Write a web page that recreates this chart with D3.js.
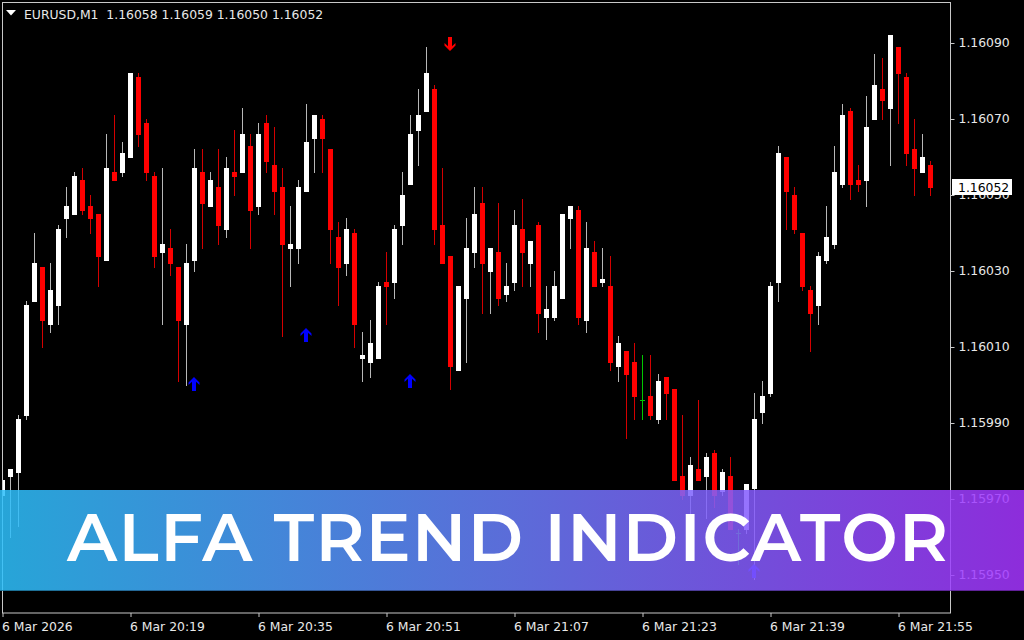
<!DOCTYPE html>
<html>
<head>
<meta charset="utf-8">
<script src="https://cdn.jsdelivr.net/npm/d3@7"></script>
<style>
  html, body { margin: 0; padding: 0; background: #000; }
  svg { display: block; }
  .axis text { font-family: "DejaVu Sans", Verdana, sans-serif; font-size: 12.4px; fill: #e8e8e8; }
  .axis line { stroke: #c8c8c8; }
</style>
</head>
<body>
<div id="chart"></div>
<script>
// chart values
var symbol = "EURUSD,M1";
var lastBar = [1.16058, 1.16059, 1.16050, 1.16052];
var timeLabels = ["6 Mar 2026", "6 Mar 20:19", "6 Mar 20:35", "6 Mar 20:51", "6 Mar 21:07", "6 Mar 21:23", "6 Mar 21:39", "6 Mar 21:55"];
var timeTickIdx = [0, 16, 32, 48, 64, 80, 96, 112];
var priceTicks = [1.15950, 1.15970, 1.15990, 1.16010, 1.16030, 1.16050, 1.16070, 1.16090];

var opens = [
  1.15971,1.15976,1.15977,1.15992,1.16022,1.16031,1.16016,1.16021,1.16044,1.16045,
  1.16054,1.16047,1.16045,1.16033,1.16056,1.16056,1.16060,1.16081,1.16069,1.16055,
  1.16035,1.16036,1.16031,1.16016,1.16033,1.16056,1.16047,1.16052,1.16041,1.16056,
  1.16056,1.16063,1.16047,1.16069,1.16058,1.16052,1.16036,1.16036,1.16051,1.16065,
  1.16070,1.16062,1.16039,1.16032,1.16040,1.16007,1.16006,1.16007,1.16027,1.16027,
  1.16042,1.16053,1.16067,1.16072,1.16078,1.16042,1.16034,1.16004,1.16023,1.16035,
  1.16048,1.16030,1.16035,1.16024,1.16027,1.16041,1.16032,1.16042,1.16018,1.16018,
  1.16023,1.16044,1.16046,1.16017,1.16035,1.16027,1.16026,1.16005,1.16009,1.16006,
  1.15996,1.15997,1.15991,1.16002,1.15999,1.15976,1.15971,1.15978,1.15976,1.15982,
  1.15972,1.15976,1.15961,1.15962,1.15973,1.15993,1.15998,1.16027,1.16060,1.16050,
  1.16040,1.16025,1.16021,1.16033,1.16037,1.16053,1.16072,1.16054,1.16054,1.16070,
  1.16078,1.16073,1.16089,1.16081,1.16062,1.16056,1.16058
];
var highs = [
  1.15979,1.15978,1.15992,1.16022,1.16040,1.16031,1.16032,1.16042,1.16052,1.16056,
  1.16057,1.16050,1.16045,1.16066,1.16071,1.16064,1.16082,1.16082,1.16070,1.16056,
  1.16057,1.16041,1.16031,1.16037,1.16062,1.16062,1.16056,1.16062,1.16060,1.16067,
  1.16073,1.16066,1.16069,1.16071,1.16068,1.16057,1.16047,1.16054,1.16074,1.16071,
  1.16071,1.16062,1.16043,1.16044,1.16041,1.16014,1.16017,1.16027,1.16035,1.16042,
  1.16056,1.16071,1.16078,1.16089,1.16079,1.16057,1.16034,1.16026,1.16044,1.16052,
  1.16052,1.16036,1.16048,1.16032,1.16046,1.16049,1.16038,1.16043,1.16026,1.16030,
  1.16045,1.16047,1.16047,1.16043,1.16038,1.16036,1.16034,1.16013,1.16009,1.16011,
  1.16008,1.16008,1.16003,1.16002,1.15999,1.15992,1.15981,1.15996,1.15982,1.15983,
  1.15978,1.15981,1.15962,1.15974,1.15998,1.16001,1.16027,1.16063,1.16060,1.16052,
  1.16040,1.16026,1.16035,1.16047,1.16063,1.16074,1.16073,1.16058,1.16076,1.16087,
  1.16086,1.16092,1.16089,1.16082,1.16070,1.16066,1.16059
];
var lows = [
  1.15965,1.15960,1.15963,1.15991,1.16022,1.16010,1.16014,1.16016,1.16039,1.16045,
  1.16045,1.16040,1.16026,1.16033,1.16054,1.16055,1.16060,1.16063,1.16054,1.16031,
  1.16016,1.16029,1.16001,1.16000,1.16030,1.16036,1.16047,1.16037,1.16039,1.16050,
  1.16056,1.16036,1.16045,1.16056,1.16045,1.16013,1.16026,1.16032,1.16051,1.16056,
  1.16056,1.16032,1.16021,1.16029,1.16010,1.16001,1.16002,1.16007,1.16016,1.16023,
  1.16037,1.16053,1.16058,1.16072,1.16037,1.16032,1.15999,1.16004,1.16006,1.16031,
  1.16019,1.16019,1.16021,1.16022,1.16025,1.16026,1.16026,1.16014,1.16012,1.16017,
  1.16023,1.16036,1.16016,1.16014,1.16026,1.16026,1.16004,1.16001,1.15986,1.15991,
  1.15991,1.15991,1.15990,1.15991,1.15975,1.15970,1.15966,1.15975,1.15965,1.15968,
  1.15971,1.15962,1.15953,1.15961,1.15949,1.15990,1.15997,1.16022,1.16041,1.16040,
  1.16025,1.16009,1.16016,1.16032,1.16036,1.16052,1.16049,1.16051,1.16047,1.16070,
  1.16070,1.16058,1.16069,1.16058,1.16050,1.16056,1.16050
];
var closes = [
  1.15975,1.15978,1.15991,1.16021,1.16032,1.16017,1.16025,1.16041,1.16047,1.16055,
  1.16046,1.16044,1.16034,1.16057,1.16054,1.16061,1.16082,1.16066,1.16056,1.16034,
  1.16037,1.16032,1.16017,1.16032,1.16057,1.16048,1.16054,1.16042,1.16057,1.16055,
  1.16066,1.16046,1.16066,1.16059,1.16051,1.16037,1.16037,1.16052,1.16064,1.16071,
  1.16065,1.16041,1.16031,1.16041,1.16016,1.16008,1.16011,1.16026,1.16026,1.16041,
  1.16050,1.16066,1.16071,1.16082,1.16041,1.16032,1.16005,1.16026,1.16036,1.16045,
  1.16032,1.16036,1.16023,1.16026,1.16042,1.16035,1.16038,1.16019,1.16020,1.16026,
  1.16045,1.16047,1.16018,1.16036,1.16026,1.16028,1.16006,1.16011,1.16003,1.15997,
  1.15996,1.15992,1.16001,1.15998,1.15975,1.15971,1.15979,1.15975,1.15981,1.15971,
  1.15977,1.15962,1.15961,1.15974,1.15991,1.15997,1.16026,1.16061,1.16051,1.16041,
  1.16026,1.16019,1.16034,1.16039,1.16056,1.16071,1.16053,1.16053,1.16068,1.16079,
  1.16075,1.16092,1.16082,1.16061,1.16057,1.16060,1.16052
];

// indicator arrows (bar index, price of the arrow tip, direction)
var arrowIdx = [24, 38, 51, 56, 94];
var arrowPrice = [1.16002, 1.16015, 1.16003, 1.16088, 1.15953];
var arrowDir = ["up", "up", "up", "down", "up"];

var bannerTitle = "ALFA TREND INDICATOR";

var svgWidth = 1024;
var svgHeight = 640;

var plot = { left: 2.5, top: 2.5, right: 950.5, bottom: 613 };

var svg = d3.select("#chart")
  .append("svg")
  .attr("width", svgWidth)
  .attr("height", svgHeight)
  .style("background", "#000");

var bars = opens.map(function(o, i) {
  return { i: i, o: o, h: highs[i], l: lows[i], c: closes[i] };
});

// scales
var x = d3.scaleLinear()
  .domain([0, bars.length - 1])
  .range([2.5, 930.5]);

var y = d3.scaleLinear()
  .domain([1.15950, 1.16090])
  .range([575, 43]);

var defs = svg.append("defs");
defs.append("clipPath")
  .attr("id", "plotClip")
  .append("rect")
  .attr("x", plot.left + 0.5)
  .attr("y", plot.top + 0.5)
  .attr("width", plot.right - plot.left - 1)
  .attr("height", plot.bottom - plot.top - 1);

var grad = defs.append("linearGradient")
  .attr("id", "bannerGrad")
  .attr("x1", "0%").attr("x2", "100%")
  .attr("y1", "0%").attr("y2", "0%");
grad.append("stop").attr("offset", "0%").attr("stop-color", "#2dc0fb");
grad.append("stop").attr("offset", "50%").attr("stop-color", "#6a7efc");
grad.append("stop").attr("offset", "100%").attr("stop-color", "#a434ff");

// axes
var rightAxis = d3.axisRight(y)
  .tickValues(priceTicks)
  .tickFormat(d3.format(".5f"))
  .tickSize(4)
  .tickPadding(3);

var yAxisG = svg.append("g")
  .attr("class", "axis")
  .attr("transform", "translate(" + plot.right + ",0)")
  .call(rightAxis);
yAxisG.select(".domain").remove();
yAxisG.selectAll("text").attr("x", 8);

var bottomAxis = d3.axisBottom(x)
  .tickValues(timeTickIdx)
  .tickFormat(function(d, i) { return timeLabels[i]; })
  .tickSize(4);

var xAxisG = svg.append("g")
  .attr("class", "axis")
  .attr("transform", "translate(0," + plot.bottom + ")")
  .call(bottomAxis);
xAxisG.select(".domain").remove();
xAxisG.selectAll("text")
  .attr("text-anchor", "start")
  .attr("x", -1)
  .attr("y", 18)
  .attr("dy", 0);

// frame
svg.append("rect")
  .attr("x", plot.left)
  .attr("y", plot.top)
  .attr("width", plot.right - plot.left)
  .attr("height", plot.bottom - plot.top)
  .attr("fill", "none")
  .attr("stroke", "#c8c8c8")
  .attr("stroke-width", 1);

// candles
var candleG = svg.append("g").attr("clip-path", "url(#plotClip)");

var candles = candleG.selectAll("g.candle")
  .data(bars)
  .enter()
  .append("g")
  .attr("class", "candle");

function candleColor(d) {
  if (d.o === d.c) return "#00c800";
  return d.c > d.o ? "#ffffff" : "#ff0000";
}
function wickColor(d) {
  if (d.o === d.c) return "#00c800";
  return d.c > d.o ? "#b8b8b8" : "#d40000";
}

candles.append("line")
  .attr("x1", d => x(d.i))
  .attr("x2", d => x(d.i))
  .attr("y1", d => Math.round(y(d.h)))
  .attr("y2", d => Math.round(y(d.l)) + 1)
  .attr("stroke", wickColor)
  .attr("stroke-width", 1);

candles.filter(d => d.o !== d.c)
  .append("rect")
  .attr("x", d => x(d.i) - 2.5)
  .attr("width", 5)
  .attr("y", d => Math.round(y(Math.max(d.o, d.c))))
  .attr("height", d => Math.max(1, Math.round(y(Math.min(d.o, d.c))) - Math.round(y(Math.max(d.o, d.c))) + 1))
  .attr("fill", candleColor);

candles.filter(d => d.o === d.c)
  .append("line")
  .attr("x1", d => x(d.i) - 2.5)
  .attr("x2", d => x(d.i) + 2.5)
  .attr("y1", d => Math.round(y(d.c)) + 0.5)
  .attr("y2", d => Math.round(y(d.c)) + 0.5)
  .attr("stroke", "#00c800");

// arrows
var arrowPath = "M0,0 L5.5,5.5 L5.5,8 L2,4.8 L2,14 L-2,14 L-2,4.8 L-5.5,8 L-5.5,5.5 Z";
candleG.selectAll("path.arrow")
  .data(arrowIdx)
  .enter()
  .append("path")
  .attr("class", "arrow")
  .attr("d", arrowPath)
  .attr("fill", (d, i) => arrowDir[i] === "up" ? "#0000ff" : "#ff0000")
  .attr("transform", function(d, i) {
    var ax = x(d) - 0.5;
    var ay = Math.round(y(arrowPrice[i]));
    return arrowDir[i] === "up"
      ? "translate(" + ax + "," + ay + ")"
      : "translate(" + ax + "," + ay + ") rotate(180)";
  });

// current price label
var lastY = y(lastBar[3]);
svg.append("rect")
  .attr("x", 952)
  .attr("y", Math.round(lastY) - 8)
  .attr("width", 60)
  .attr("height", 16)
  .attr("fill", "#ffffff");
svg.append("text")
  .attr("x", 958)
  .attr("y", Math.round(lastY) + 4.5)
  .attr("font-family", "DejaVu Sans, Verdana, sans-serif")
  .attr("font-size", "12.4px")
  .attr("fill", "#000")
  .text(d3.format(".5f")(lastBar[3]));

// header
svg.append("path")
  .attr("d", "M6,10 L16,10 L11,15.5 Z")
  .attr("fill", "#ffffff");
svg.append("text")
  .attr("x", 24)
  .attr("y", 18.7)
  .attr("font-family", "DejaVu Sans, Verdana, sans-serif")
  .attr("font-size", "12.4px")
  .attr("fill", "#e8e8e8")
  .attr("xml:space", "preserve")
  .style("white-space", "pre")
  .text(symbol + "  " + lastBar.map(d3.format(".5f")).join(" "));

// banner
svg.append("rect")
  .attr("x", 0)
  .attr("y", 490)
  .attr("width", svgWidth)
  .attr("height", 101)
  .attr("fill", "url(#bannerGrad)")
  .attr("opacity", 0.86);
svg.append("line")
  .attr("x1", 0).attr("x2", svgWidth)
  .attr("y1", 590.5).attr("y2", 590.5)
  .attr("stroke", "rgba(0,0,0,0.3)");

svg.append("text")
  .attr("x", 67)
  .attr("y", 561)
  .attr("font-family", "Montserrat, Inter, 'Open Sans', sans-serif")
  .attr("font-weight", 600)
  .attr("font-size", "67px")
  .attr("fill", "#ffffff")
  .attr("textLength", 881)
  .attr("lengthAdjust", "spacing")
  .text(bannerTitle);
</script>
</body>
</html>
